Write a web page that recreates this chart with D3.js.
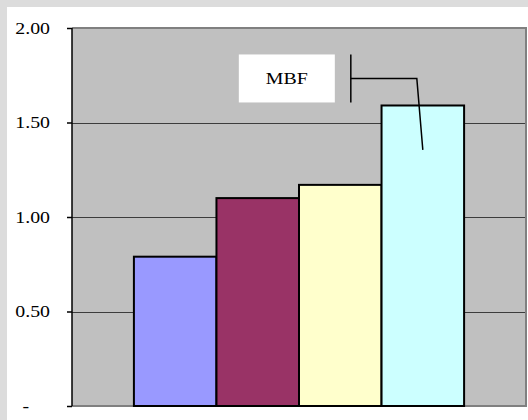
<!DOCTYPE html>
<html>
<head>
<meta charset="utf-8">
<script src="https://cdn.jsdelivr.net/npm/d3@7"></script>
<style>
  body { margin: 0; background: #dcdcdc; }
  svg { display: block; }
</style>
</head>
<body>
<svg class="chart" width="528" height="420"></svg>
<script>
const series = ['S1', 'S2', 'S3', 'MBF'];
const values = [0.79, 1.10, 1.17, 1.59];
const colors = ['#9999ff', '#993366', '#ffffcc', '#ccffff'];
const tickValues = [0, 0.5, 1, 1.5, 2];
const tickLabels = ['-', '0.50', '1.00', '1.50', '2.00'];

const svg = d3.select('.chart');
const plot = { left: 72, top: 28, right: 526, bottom: 406 };
const stretch = 1.24;

// white panel inside the grey frame
svg.append('rect')
    .attr('x', 7).attr('y', 7)
    .attr('width', 540).attr('height', 430)
    .attr('fill', '#ffffff');

const y = d3.scaleLinear().domain([0, 2]).range([plot.bottom, plot.top]);
const x = d3.scaleBand().domain(series)
    .range([plot.left, plot.right])
    .paddingInner(0).paddingOuter(0.75);

svg.append('rect')
    .attr('x', plot.left).attr('y', plot.top)
    .attr('width', plot.right - plot.left).attr('height', plot.bottom - plot.top)
    .attr('fill', '#c0c0c0');

// gridlines
svg.selectAll('line.grid').data(tickValues.filter(v => v > 0 && v < 2))
    .enter().append('line')
    .attr('class', 'grid')
    .attr('x1', plot.left).attr('x2', plot.right)
    .attr('y1', d => Math.round(y(d)) + 0.5).attr('y2', d => Math.round(y(d)) + 0.5)
    .attr('stroke', '#3c3c3c').attr('stroke-width', 1);

// border (top, right, bottom)
svg.append('path')
    .attr('d', `M${plot.left},${plot.top} H${plot.right} V${plot.bottom} H${plot.left}`)
    .attr('fill', 'none').attr('stroke', '#808080').attr('stroke-width', 2);

// bars
svg.selectAll('rect.bar').data(values)
    .enter().append('rect')
    .attr('class', 'bar')
    .attr('x', (d, i) => x(series[i]))
    .attr('y', d => y(d))
    .attr('width', x.bandwidth())
    .attr('height', d => y(0) - y(d))
    .attr('fill', (d, i) => colors[i])
    .attr('stroke', '#000').attr('stroke-width', 2);

// y axis
const axis = svg.append('g')
    .attr('transform', `translate(${plot.left},0)`)
    .call(d3.axisLeft(y).tickValues(tickValues)
        .tickFormat((d, i) => tickLabels[i])
        .tickSize(5).tickPadding(17));
axis.select('.domain').attr('stroke', '#000').attr('stroke-width', 1.5)
    .attr('d', `M0,${plot.top}V${plot.bottom}`);
axis.selectAll('.tick line').attr('stroke', '#000').attr('stroke-width', 1.5);
axis.selectAll('.tick text')
    .attr('font-family', '"Liberation Serif", "Times New Roman", serif')
    .attr('font-size', 16).attr('fill', '#000')
    .attr('dx', (d, i) => tickLabels[i] === '-' ? -21 : 0)
    .each(function () {
        const w = this.getComputedTextLength();
        d3.select(this).attr('textLength', w * stretch).attr('lengthAdjust', 'spacingAndGlyphs');
    });

// callout for the MBF bar
const tipX = x('MBF') + x.bandwidth() / 2;
const callout = [
    [tipX - 6, y(1.733)],
    [tipX, y(1.355)]
];
const barX = tipX - 72;

svg.append('rect')
    .attr('x', barX - 112).attr('y', y(1.86))
    .attr('width', 96).attr('height', 48)
    .attr('fill', '#fff');

const label = svg.append('text')
    .attr('x', barX - 64).attr('y', y(1.86) + 30)
    .attr('text-anchor', 'middle')
    .attr('font-family', '"Liberation Serif", "Times New Roman", serif')
    .attr('font-size', 16).attr('fill', '#000')
    .text('MBF');
label.attr('textLength', label.node().getComputedTextLength() * stretch)
    .attr('lengthAdjust', 'spacingAndGlyphs');

svg.append('line')
    .attr('x1', barX).attr('x2', barX)
    .attr('y1', y(1.86)).attr('y2', y(1.86) + 48)
    .attr('stroke', '#000').attr('stroke-width', 1.5);
svg.append('path')
    .attr('d', `M${barX},${callout[0][1]} L${callout[0][0]},${callout[0][1]} L${callout[1][0]},${callout[1][1]}`)
    .attr('fill', 'none').attr('stroke', '#000').attr('stroke-width', 1.5);
</script>
</body>
</html>
